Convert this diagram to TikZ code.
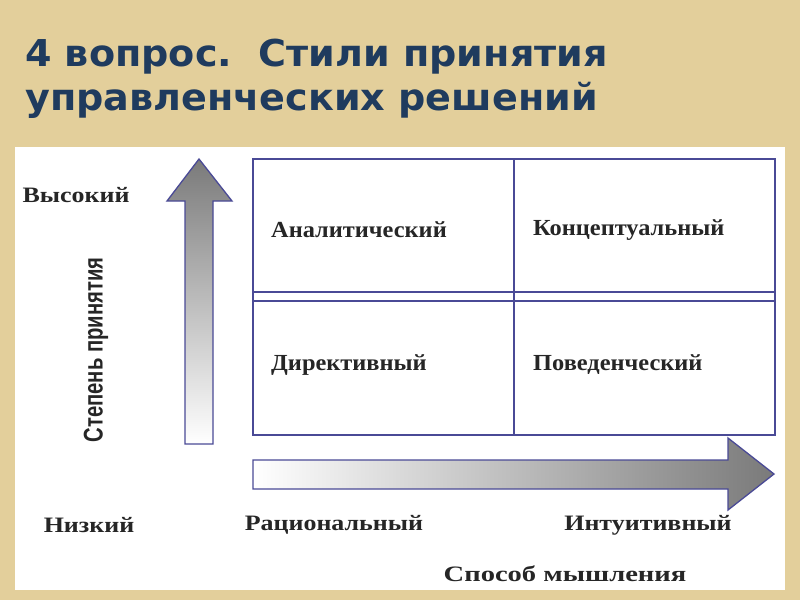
\documentclass[tikz,border=0pt]{standalone}
\usepackage{fontspec}
\setmainfont{Liberation Serif}
\newfontfamily\titlefont{DejaVu Sans}
\newfontfamily\axisfont{Liberation Sans}
\usetikzlibrary{shadings}
\definecolor{parch}{HTML}{E3CF9B}
\definecolor{titlecol}{HTML}{1F3B5E}
\definecolor{gridline}{HTML}{4A4A96}
\definecolor{arrgray}{HTML}{7A7A7A}
\tikzset{
  lbl/.style={font=\fontsize{22}{24}\selectfont\bfseries, text=black!85, inner sep=0pt, xscale=1.18},
  boxlbl/.style={font=\fontsize{23}{25}\selectfont\bfseries, text=black!85, inner sep=0pt, anchor=west, xscale=1.06},
  ttl/.style={font=\titlefont\bfseries\fontsize{37}{40}\selectfont, text=titlecol, anchor=base west, inner sep=0pt, xscale=1.03},
  gline/.style={draw=gridline, line width=1.5pt},
  arrowshape/.style={draw=gridline, line width=1.3pt, line join=miter}
}
\begin{document}
\begin{tikzpicture}[x=1pt,y=-1pt]
\useasboundingbox (0,0) rectangle (800,600);
\fill[parch] (0,0) rectangle (800,600);
\fill[white] (15,147) rectangle (785,590);
% title
\node[ttl] (t1) at (25,66) {4 вопрос.\ \ Стили принятия};
\node[ttl] (t2) at (25,110) {управленческих решений};
% grid
\draw[gline] (253,159) rectangle (775,435);
\draw[gline] (253,292) -- (775,292);
\draw[gline] (253,301) -- (775,301);
\draw[gline] (514,159) -- (514,435);
\node[boxlbl] (a) at (271,230) {Аналитический};
\node[boxlbl] (k) at (533,230) {Концептуальный};
\node[boxlbl] (d) at (271,365) {Директивный};
\node[boxlbl] (p) at (533,365) {Поведенческий};
% vertical arrow
\shade[top color=arrgray, bottom color=white, arrowshape]
  (185,444) -- (185,201) -- (167,201) -- (199,159) -- (232,201) -- (213,201) -- (213,444) -- cycle;
% horizontal arrow
\shade[left color=white, right color=arrgray, arrowshape]
  (253,460) -- (728,460) -- (728,438) -- (774,474) -- (728,510) -- (728,489) -- (253,489) -- cycle;
% labels
\node[lbl] (hi) at (76,195) {Высокий};
\node[inner sep=0pt, rotate=90, xscale=0.75, text=black!85, font=\axisfont\bfseries\fontsize{27}{29}\selectfont] (deg) at (96,350) {Степень принятия};
\node[lbl] (lo) at (89,525) {Низкий};
\node[lbl] (rat) at (334,525) {Рациональный};
\node[lbl] (int) at (648,525) {Интуитивный};
\node[lbl, xscale=1.1] (sp) at (565,574) {Способ мышления};
\end{tikzpicture}
\end{document}
